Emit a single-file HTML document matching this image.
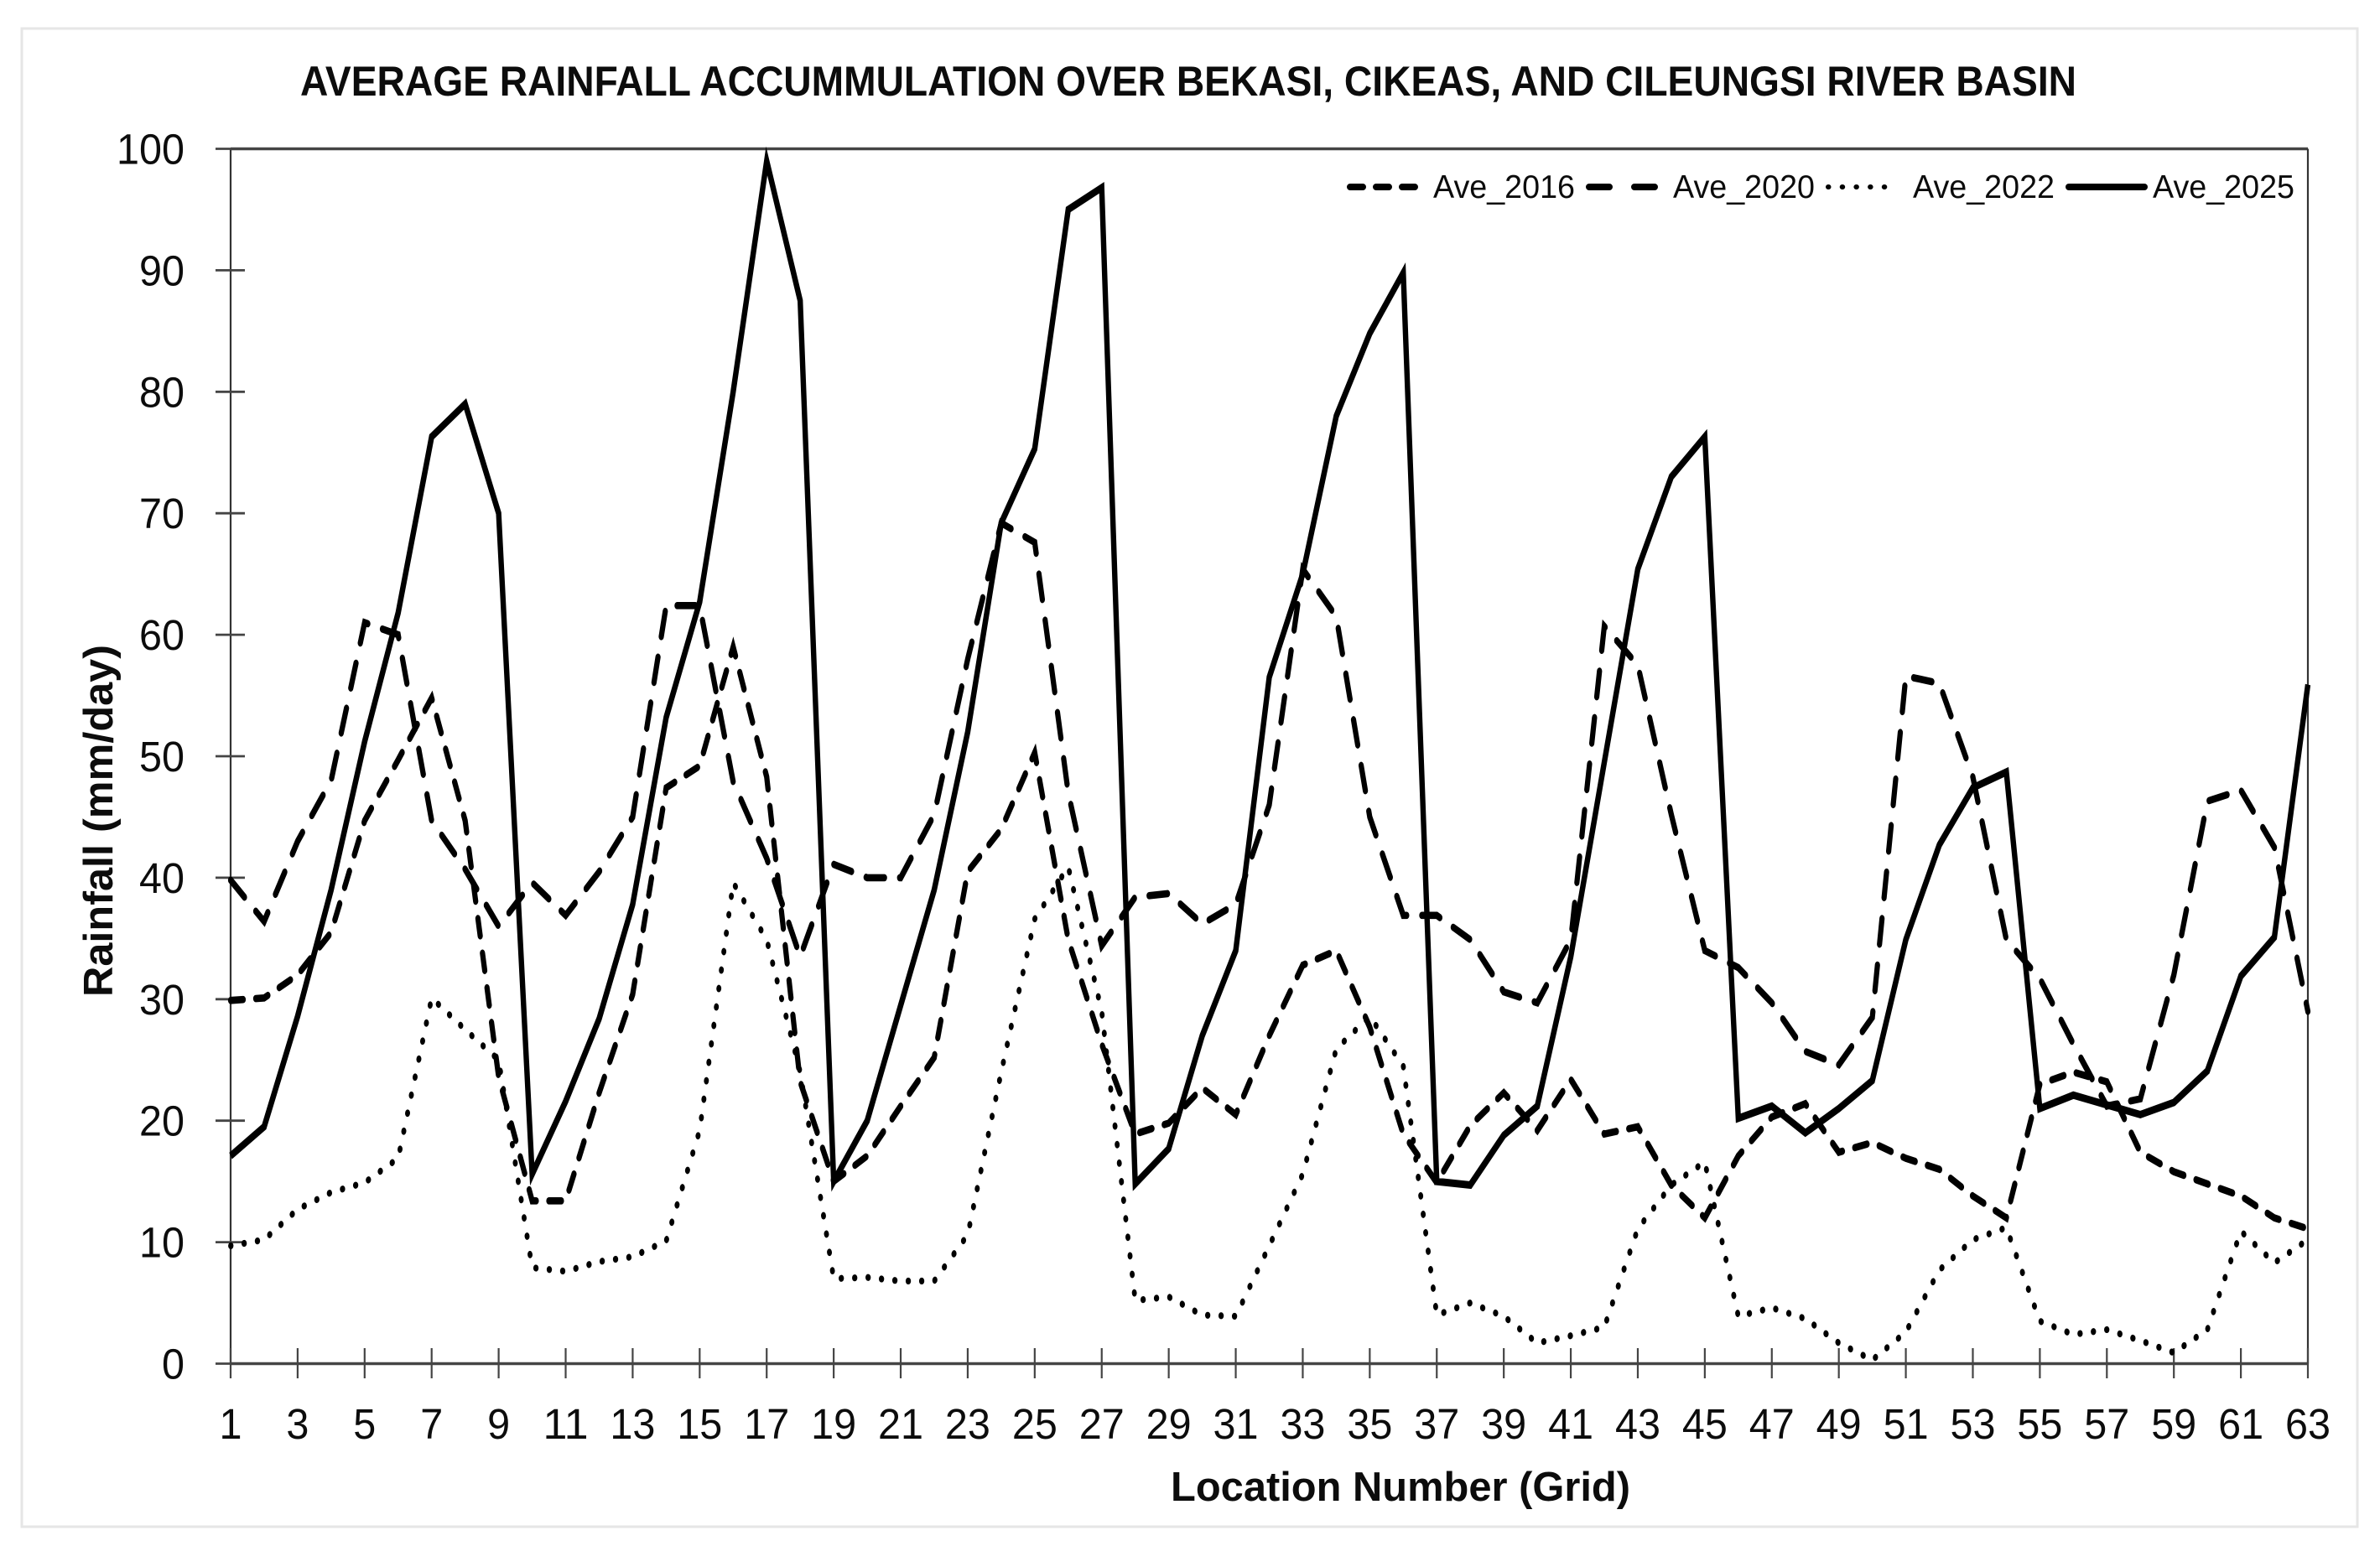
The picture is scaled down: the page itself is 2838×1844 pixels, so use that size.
<!DOCTYPE html>
<html lang="en">
<head>
<meta charset="utf-8">
<title>Average Rainfall Accumulation</title>
<style>
html,body{margin:0;padding:0;background:#fff;}
svg{display:block;}
text{font-family:"Liberation Sans",sans-serif;fill:#0c0c0c;}
</style>
</head>
<body>
<svg id="chart" xmlns="http://www.w3.org/2000/svg" width="2838" height="1844" viewBox="0 0 2838 1844">
  <rect x="0" y="0" width="2838" height="1844" fill="#fff"/>
  <rect x="26" y="34" width="2785" height="1787" fill="#fff" stroke="#e6e6e6" stroke-width="3"/>
  <text x="358" y="114" font-size="50" font-weight="700" textLength="2118" lengthAdjust="spacingAndGlyphs">AVERAGE RAINFALL ACCUMMULATION OVER BEKASI, CIKEAS, AND CILEUNGSI RIVER BASIN</text>
  <text transform="translate(134,1189) rotate(-90)" font-size="49" font-weight="700" textLength="420" lengthAdjust="spacingAndGlyphs">Rainfall (mm/day)</text>
  <text x="1396" y="1790" font-size="49" font-weight="700" textLength="548" lengthAdjust="spacingAndGlyphs">Location Number (Grid)</text>
  <g id="axes"></g>
  <g id="series"></g>
  <g id="legend">
    <g>
      <line x1="1610" y1="223" x2="1687" y2="223" stroke="#000" stroke-width="8" stroke-linecap="round" stroke-dasharray="15 16"/>
      <text x="1709" y="236" font-size="39" textLength="169" lengthAdjust="spacingAndGlyphs">Ave_2016</text>
    </g>
    <g>
      <line x1="1895" y1="223" x2="1973" y2="223" stroke="#000" stroke-width="8" stroke-linecap="round" stroke-dasharray="24 30"/>
      <text x="1995" y="236" font-size="39" textLength="169" lengthAdjust="spacingAndGlyphs">Ave_2020</text>
    </g>
    <g>
      <line x1="2180" y1="223" x2="2262" y2="223" stroke="#000" stroke-width="6" stroke-linecap="round" stroke-dasharray="0.5 16.2"/>
      <text x="2281" y="236" font-size="39" textLength="169" lengthAdjust="spacingAndGlyphs">Ave_2022</text>
    </g>
    <g>
      <line x1="2467" y1="223" x2="2557" y2="223" stroke="#000" stroke-width="8" stroke-linecap="round"/>
      <text x="2567" y="236" font-size="39" textLength="169" lengthAdjust="spacingAndGlyphs">Ave_2025</text>
    </g>
  </g>
</svg>
<script>
const categories = [1,2,3,4,5,6,7,8,9,10,11,12,13,14,15,16,17,18,19,20,21,22,23,24,25,26,27,28,29,30,31,32,33,34,35,36,37,38,39,40,41,42,43,44,45,46,47,48,49,50,51,52,53,54,55,56,57,58,59,60,61,62,63];
const yTickLabels = [0,10,20,30,40,50,60,70,80,90,100];
const ave2016 = [29.9,30.1,32,35.5,44.7,49.7,54.8,44.7,23.6,13.4,13.4,22.3,30.4,47.4,49.2,59,48.3,23.2,15,17.1,21.2,25.2,40.5,44,50.3,34.9,26.3,18.9,19.8,22.7,20.5,27,32.8,34,27.7,18.9,14.9,19.6,22.3,19.2,23.4,18.9,19.5,14.7,12,17.1,20.3,21.4,17.4,18.2,16.9,16,13.8,12,23,24,23.2,17.4,15.8,14.8,13.8,12,11.1];
const ave2020 = [39.8,36.4,43,48,61,60,44.7,40.7,36,39.6,36.9,40.5,45,62.4,62.4,47.9,41.6,33.5,41.1,40,40,45.2,58,69.2,67.6,47,34.4,38.4,38.7,36.2,37.8,46,65.4,61.5,45,36.9,36.9,34.9,30.6,29.7,34.9,60.7,57.5,45.2,34,32.6,29.7,25.7,24.6,28.5,56.6,56,48.3,34.9,31.7,26.3,21.2,21.8,32,46.3,47.2,42.5,29];
const ave2022 = [9.7,10.2,12.7,14.1,14.9,16.9,30.1,27.5,25,7.9,7.6,8.4,8.8,10.1,19.2,39.6,34.9,24,7,7.1,6.8,6.8,10.6,24,36.6,40.9,29,5.2,5.5,4,3.9,9.7,15.6,25.9,28.6,24.5,4,5,3.9,1.7,2.3,3,11.1,14.7,16.6,3.9,4.6,3.7,1.7,0.3,2.6,7.7,10.2,11.2,3.5,2.4,2.8,1.9,0.9,2.8,10.9,8.3,10.2];
const ave2025 = [17.1,19.5,28.6,39,51.2,61.8,76.3,79,70,15.6,21.6,28.4,37.8,53.2,62.7,80,99,87.5,15,20,29.5,39,52,69.2,75.3,95,96.8,14.8,17.7,27,34,56.5,65,78,84.8,89.8,15,14.7,18.8,21.2,33.5,49.5,65.4,73,76.3,20.2,21.2,19,21,23.3,34.9,42.7,47.4,48.7,21,22.1,21.3,20.5,21.5,24.1,31.9,35.1,55.9];

const NS = 'http://www.w3.org/2000/svg';
const left = 275, right = 2752, top0 = 177.5, bottom = 1626.5;
const stretch = 1.4;
function xScale(c){ return left + (c - 1) * (right - left) / 62; }
function yScale(v){ return bottom - v * (bottom - top0) / 100; }

const axes = document.getElementById('axes');
function line(parent, x1, y1, x2, y2, w, color){
  const l = document.createElementNS(NS, 'line');
  l.setAttribute('x1', x1); l.setAttribute('y1', y1);
  l.setAttribute('x2', x2); l.setAttribute('y2', y2);
  l.setAttribute('stroke', color); l.setAttribute('stroke-width', w);
  parent.appendChild(l);
  return l;
}
function label(parent, x, y, str, anchor){
  const t = document.createElementNS(NS, 'text');
  t.setAttribute('x', x); t.setAttribute('y', y);
  t.setAttribute('font-size', '51');
  t.setAttribute('text-anchor', anchor);
  t.setAttribute('textLength', str.length * 27);
  t.setAttribute('lengthAdjust', 'spacingAndGlyphs');
  t.textContent = str;
  parent.appendChild(t);
  return t;
}

const frameTop = line(axes, left, top0, right, top0, 3.5, '#444');


const frameRight = line(axes, right, top0, right, bottom, 2.2, '#333');


const axisY = line(axes, left, top0, left, bottom, 2.2, '#333');


const axisX = line(axes, left, bottom, right, bottom, 3.5, '#444');



yTickLabels.forEach(function(v){
  const tick = line(axes, 257, yScale(v), 292, yScale(v), 2.8, '#444');
  
  
  const t = label(axes, 220, yScale(v) + 18, String(v), 'end');
  
  
});
categories.forEach(function(c){
  if (c % 2 === 0) return;
  const tick = line(axes, xScale(c), 1608, xScale(c), 1644, 2.2, '#444');
  
  
  const t = label(axes, xScale(c), 1716, String(c), 'middle');
  
  
});

const seriesGroup = document.getElementById('series');
seriesGroup.setAttribute('transform', 'scale(1,' + stretch + ')');
function drawSeries(values, dash, width){
  const p = document.createElementNS(NS, 'path');
  const d = values.map(function(v, i){
    return (i ? 'L' : 'M') + xScale(categories[i]).toFixed(2) + ' ' + (yScale(v) / stretch).toFixed(2);
  }).join(' ');
  p.setAttribute('d', d);
  p.setAttribute('fill', 'none');
  p.setAttribute('stroke', '#000');
  p.setAttribute('stroke-width', width);
  p.setAttribute('stroke-linejoin', 'miter');
  p.setAttribute('stroke-miterlimit', '4');
  if (dash) { p.setAttribute('stroke-dasharray', dash); p.setAttribute('stroke-linecap', 'round'); }
  seriesGroup.appendChild(p);
  return p;
}
const line2022 = drawSeries(ave2022, '0.5 15.5', 5.8);


const line2016 = drawSeries(ave2016, '15 15', 6.2);


const line2020 = drawSeries(ave2020, '22 18', 6.2);


const line2025 = drawSeries(ave2025, null, 6.4);


</script>
</body>
</html>
